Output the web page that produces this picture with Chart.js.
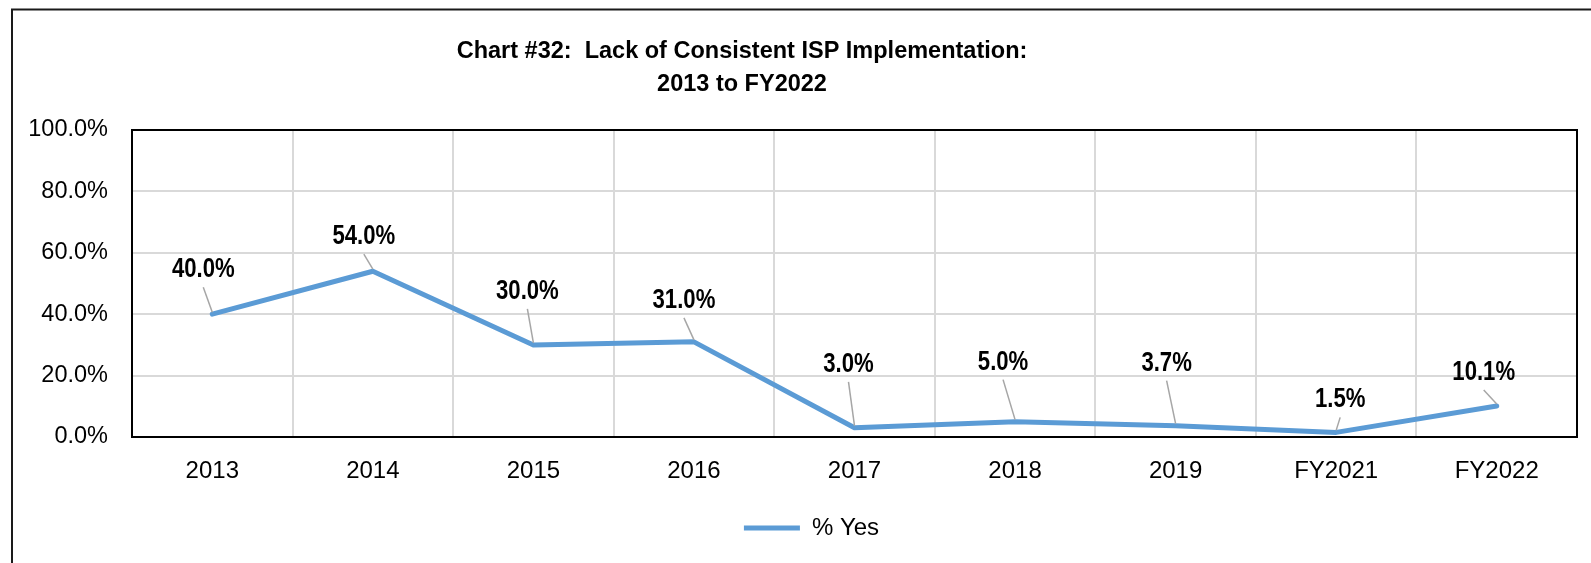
<!DOCTYPE html>
<html>
<head>
<meta charset="utf-8">
<title>Chart #32</title>
<script src="https://cdn.jsdelivr.net/npm/chart.js@4.4.1/dist/chart.umd.min.js"></script>
<style>
  html, body { margin: 0; padding: 0; background: #fff; }
  #wrap { width: 1591px; height: 563px; }
</style>
</head>
<body>
<div id="wrap"><canvas id="myChart" width="1591" height="563"></canvas></div>
<script>
// data
const categories = ["2013", "2014", "2015", "2016", "2017", "2018", "2019", "FY2021", "FY2022"];
const yesValues = [40.0, 54.0, 30.0, 31.0, 3.0, 5.0, 3.7, 1.5, 10.1];
const yTicks = [0, 20, 40, 60, 80, 100];
const titleLines = ["Chart #32:  Lack of Consistent ISP Implementation:", "2013 to FY2022"];
const seriesName = "% Yes";

// label placement relative to each point (dx, dy), the way Excel left them
const labelOffsets = [[-9, -47], [-9, -37], [-6, -56], [-10, -44], [-6, -66], [-12, -62], [-9, -65], [4, -35], [-13, -36]];

const FONT = "'Liberation Sans', Arial, sans-serif";
Chart.defaults.font.family = FONT;
Chart.defaults.color = "#000";

// outer frame + title
const frameTitle = {
  id: "frameTitle",
  beforeDraw(chart) {
    const ctx = chart.ctx;
    ctx.save();
    ctx.fillStyle = "#fff";
    ctx.fillRect(0, 0, chart.width, chart.height);
    ctx.strokeStyle = "#1a1a1a";
    ctx.lineWidth = 2;
    ctx.strokeRect(12, 9.5, 1700, 700);
    ctx.fillStyle = "#000";
    ctx.font = "bold 23.5px " + FONT;
    ctx.textAlign = "center";
    ctx.textBaseline = "middle";
    ctx.fillText(titleLines[0], 742, 52);
    ctx.fillText(titleLines[1], 742, 85);
    ctx.restore();
  },
  // legend sits a bit right of centre in the original
  afterLayout(chart) {
    chart.legend.left += 23;
    chart.legend.right += 23;
  }
};

// black box round the plot area
const plotBox = {
  id: "plotBox",
  beforeDatasetsDraw(chart) {
    const a = chart.chartArea;
    const ctx = chart.ctx;
    ctx.save();
    ctx.strokeStyle = "#000";
    ctx.lineWidth = 2;
    ctx.strokeRect(a.left, a.top, a.right - a.left, a.bottom - a.top);
    ctx.restore();
  }
};

// data labels with leader lines (narrow bold, like Arial Narrow)
const pointLabels = {
  id: "pointLabels",
  afterDatasetsDraw(chart) {
    const ctx = chart.ctx;
    const meta = chart.getDatasetMeta(0);
    meta.data.forEach((pt, i) => {
      const lx = pt.x + labelOffsets[i][0];
      const ly = pt.y + labelOffsets[i][1];
      ctx.save();
      ctx.strokeStyle = "#a6a6a6";
      ctx.lineWidth = 1.5;
      ctx.beginPath();
      ctx.moveTo(lx, ly + 20);
      ctx.lineTo(pt.x, pt.y - 2);
      ctx.stroke();
      ctx.translate(lx, ly + 2.5);
      ctx.scale(0.82, 1);
      ctx.fillStyle = "#000";
      ctx.font = "bold 27px " + FONT;
      ctx.textAlign = "center";
      ctx.textBaseline = "middle";
      ctx.fillText(yesValues[i].toFixed(1) + "%", 0, 0);
      ctx.restore();
    });
  }
};

const ctx = document.getElementById("myChart").getContext("2d");
const chart = new Chart(ctx, {
  type: "line",
  data: {
    labels: categories,
    datasets: [
      {
        label: seriesName,
        data: yesValues,
        borderColor: "#5b9bd5",
        backgroundColor: "#5b9bd5",
        borderWidth: 5,
        borderCapStyle: "round",
        borderJoinStyle: "round",
        pointRadius: 0,
        tension: 0,
        fill: false
      }
    ]
  },
  options: {
    responsive: false,
    animation: false,
    devicePixelRatio: 1,
    layout: { padding: { top: 130, left: 0, right: 14, bottom: 13 } },
    scales: {
      x: {
        offset: true,
        grid: { offset: true, color: "#d9d9d9", lineWidth: 2, drawTicks: false },
        border: { display: false },
        ticks: { font: { size: 24 }, padding: 20, color: "#000" },
        afterFit(scale) { scale.height = 69; }
      },
      y: {
        min: 0,
        max: 100,
        grid: { color: "#d9d9d9", lineWidth: 2, drawTicks: false },
        border: { display: false },
        afterBuildTicks(scale) { scale.ticks = yTicks.map(v => ({ value: v })); },
        ticks: {
          font: { size: 23.5 },
          padding: 24,
          color: "#000",
          callback: v => v.toFixed(1) + "%"
        },
        afterFit(scale) { scale.width = 132; }
      }
    },
    plugins: {
      title: { display: false },
      tooltip: { enabled: false },
      legend: {
        position: "bottom",
        labels: {
          usePointStyle: true,
          pointStyle: "line",
          pointStyleWidth: 56,
          padding: 10,
          color: "#000",
          font: { size: 24 }
        }
      }
    }
  },
  plugins: [frameTitle, plotBox, pointLabels]
});
</script>
</body>
</html>
